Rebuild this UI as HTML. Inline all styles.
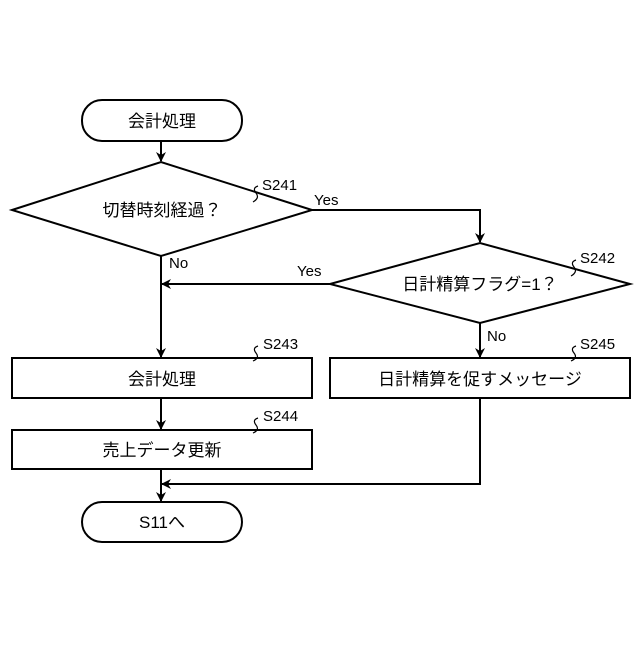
<!DOCTYPE html>
<html><head><meta charset="utf-8"><style>
body{margin:0;background:#fff}
text{font-family:"Liberation Sans","Noto Sans CJK JP",sans-serif;fill:#000}
</style></head><body>
<svg width="640" height="640" viewBox="0 0 640 640" xmlns="http://www.w3.org/2000/svg">
<defs><marker id="a" markerWidth="10" markerHeight="10" refX="9" refY="5" orient="auto" markerUnits="userSpaceOnUse"><path d="M0,0 L10,5 L0,10 L3,5 Z" fill="#000"/></marker></defs>
<g fill="none" stroke="#000" stroke-width="2">
<rect x="82" y="100" width="160" height="41" rx="20"/>
<polygon points="12,210 161,162 312,210 161,256"/>
<polygon points="330,284 480,243 630,284 480,323"/>
<rect x="12" y="358" width="300" height="40"/>
<rect x="330" y="358" width="300" height="40"/>
<rect x="12" y="430" width="300" height="39"/>
<rect x="82" y="502" width="160" height="40" rx="20"/>
<line x1="161" y1="141" x2="161" y2="161" marker-end="url(#a)"/>
<polyline points="312,210 480,210 480,242" marker-end="url(#a)"/>
<line x1="330" y1="284" x2="162" y2="284" marker-end="url(#a)"/>
<line x1="161" y1="256" x2="161" y2="357" marker-end="url(#a)"/>
<line x1="480" y1="323" x2="480" y2="357" marker-end="url(#a)"/>
<line x1="161" y1="398" x2="161" y2="429" marker-end="url(#a)"/>
<line x1="161" y1="469" x2="161" y2="501" marker-end="url(#a)"/>
<polyline points="480,398 480,484 162,484" marker-end="url(#a)"/>
<g stroke-width="1.2">
<path d="M258,186 q-6,2 -2,7 q4,5 -3,9"/>
<path d="M576,260 q-6,2 -2,7 q4,5 -3,9"/>
<path d="M258,346 q-6,2 -2,7 q4,5 -3,8"/>
<path d="M576,346 q-6,2 -2,7 q4,5 -3,8"/>
<path d="M258,418 q-6,2 -2,7 q4,5 -3,8"/>
</g>
</g>
<g font-size="17" text-anchor="middle">
<text x="162" y="127">会計処理</text>
<text x="162" y="216">切替時刻経過？</text>
<text x="480" y="290">日計精算フラグ=1？</text>
<text x="162" y="385">会計処理</text>
<text x="480" y="385">日計精算を促すメッセージ</text>
<text x="162" y="456">売上データ更新</text>
<text x="162" y="528">S11へ</text>
</g>
<g font-size="15">
<text x="262" y="190">S241</text>
<text x="314" y="205">Yes</text>
<text x="169" y="268">No</text>
<text x="297" y="276">Yes</text>
<text x="580" y="263">S242</text>
<text x="487" y="341">No</text>
<text x="263" y="349">S243</text>
<text x="580" y="349">S245</text>
<text x="263" y="421">S244</text>
</g>
</svg>
</body></html>
